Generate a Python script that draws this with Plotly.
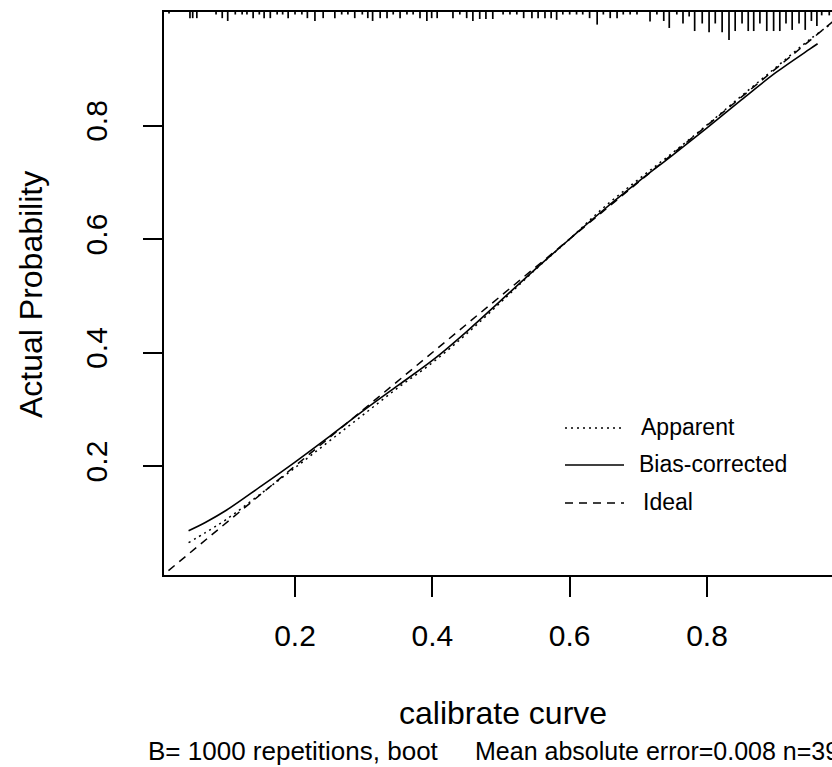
import plotly.graph_objects as go

# ---- data ----
pred_x = [0.045, 0.07, 0.10, 0.15, 0.20, 0.25, 0.30, 0.35, 0.40, 0.45, 0.50,
          0.55, 0.60, 0.65, 0.70, 0.75, 0.80, 0.85, 0.90, 0.95, 0.961]
bias_corrected = [0.086, 0.101, 0.122, 0.164, 0.207, 0.252, 0.298, 0.342, 0.386, 0.437, 0.492,
                  0.547, 0.600, 0.652, 0.701, 0.748, 0.796, 0.845, 0.893, 0.935, 0.944]
apparent_x = [0.045, 0.07, 0.10, 0.15, 0.20, 0.25, 0.30, 0.35, 0.40, 0.45, 0.50,
              0.55, 0.60, 0.65, 0.70, 0.75, 0.80, 0.85, 0.90, 0.95, 0.982]
apparent = [0.065, 0.083, 0.106, 0.151, 0.197, 0.244, 0.291, 0.338, 0.382, 0.433, 0.489,
            0.546, 0.600, 0.656, 0.705, 0.752, 0.801, 0.852, 0.902, 0.952, 0.980]
ideal = [0.0, 1.0]

# rug of predicted probabilities (position, relative tick length)
rug_x = [0.0165, 0.047, 0.051, 0.057, 0.085, 0.094, 0.102, 0.113, 0.123, 0.130, 0.139,
         0.148, 0.155, 0.164, 0.174, 0.182, 0.190, 0.200, 0.210, 0.218, 0.229, 0.241,
         0.258, 0.268, 0.277, 0.287, 0.298, 0.306, 0.313, 0.324, 0.334, 0.343, 0.353,
         0.363, 0.372, 0.382, 0.392, 0.399, 0.407, 0.430, 0.440, 0.450, 0.459, 0.469,
         0.478, 0.488, 0.503, 0.513, 0.523, 0.533, 0.545, 0.554, 0.564, 0.573, 0.581,
         0.590, 0.600, 0.610, 0.619, 0.629, 0.640, 0.649, 0.659, 0.669, 0.678, 0.688,
         0.698, 0.717, 0.727, 0.737, 0.745, 0.756, 0.765, 0.774, 0.782, 0.793, 0.803,
         0.812, 0.822, 0.832, 0.841, 0.851, 0.860, 0.868, 0.877, 0.887, 0.897, 0.906,
         0.915, 0.924, 0.934, 0.943, 0.952, 0.960, 0.967, 0.978]
rug_len = [0.05, 0.22, 0.22, 0.22, 0.09, 0.22, 0.32, 0.09, 0.09, 0.09, 0.22,
           0.09, 0.22, 0.22, 0.09, 0.09, 0.22, 0.09, 0.09, 0.22, 0.32, 0.22,
           0.22, 0.09, 0.09, 0.22, 0.09, 0.22, 0.32, 0.22, 0.22, 0.09, 0.22,
           0.09, 0.09, 0.22, 0.32, 0.22, 0.22, 0.22, 0.09, 0.22, 0.32, 0.25,
           0.25, 0.25, 0.09, 0.09, 0.09, 0.22, 0.22, 0.22, 0.22, 0.22, 0.28,
           0.09, 0.09, 0.09, 0.09, 0.22, 0.45, 0.09, 0.22, 0.22, 0.09, 0.09,
           0.09, 0.34, 0.09, 0.32, 0.57, 0.09, 0.41, 0.16, 0.68, 0.41, 0.72,
           0.41, 0.72, 1.00, 0.68, 0.41, 0.68, 0.68, 0.41, 0.68, 0.68, 0.68,
           0.41, 0.64, 0.41, 0.64, 0.32, 0.50, 0.12, 0.12]

x_range = [0.0092, 0.982]
y_range = [0.008, 1.0]
ticks = [0.2, 0.4, 0.6, 0.8]
tick_text = ["0.2", "0.4", "0.6", "0.8"]

FONT = "Liberation Sans, Arial, sans-serif"
W, H = 832, 767
L, R, T, B = 164, 0, 12, 192

fig = go.Figure()

# rug ticks hanging from the top border
rug_max = 28 / (H - T - B) * (y_range[1] - y_range[0])
rx, ry = [], []
for xv, lv in zip(rug_x, rug_len):
    rx += [xv, xv, None]
    ry += [y_range[1], y_range[1] - lv * rug_max, None]
fig.add_trace(go.Scatter(x=rx, y=ry, mode="lines",
                         line=dict(color="black", width=1.7), hoverinfo="skip",
                         showlegend=False))

fig.add_trace(go.Scatter(x=ideal, y=ideal, mode="lines",
                         line=dict(color="black", width=1.5, dash="8px,6px"),
                         showlegend=False))
fig.add_trace(go.Scatter(x=apparent_x, y=apparent, mode="lines", line_shape="spline",
                         line=dict(color="black", width=1.5, dash="2px,4px"),
                         showlegend=False))
fig.add_trace(go.Scatter(x=pred_x, y=bias_corrected, mode="lines", line_shape="spline",
                         line=dict(color="black", width=1.6),
                         showlegend=False))

# manual legend
pw, ph = W - L - R, H - T - B
def px_x(p):
    return (p - L) / pw
def px_y(p):
    return (H - B - p) / ph

legend_items = [("Apparent", "2px,4px", 428, 639), ("Bias-corrected", "solid", 465, 637),
                ("Ideal", "8px,6px", 503, 641)]
for label, dash, yy, tx in legend_items:
    fig.add_shape(type="line", xref="paper", yref="paper",
                  x0=px_x(565), x1=px_x(624), y0=px_y(yy), y1=px_y(yy),
                  line=dict(color="black", width=1.5, dash=dash))
    fig.add_annotation(text=label, xref="paper", yref="paper",
                       x=px_x(tx), y=px_y(yy - 1), xanchor="left", yanchor="middle",
                       showarrow=False, font=dict(size=23, color="black", family=FONT))

# titles
fig.add_annotation(text="calibrate curve", xref="paper", yref="paper",
                   x=px_x(503), y=px_y(713), xanchor="center", yanchor="middle",
                   showarrow=False, font=dict(size=32, color="black", family=FONT))
fig.add_annotation(text="B= 1000 repetitions, boot",
                   xref="paper", yref="paper",
                   x=px_x(146), y=px_y(751), xanchor="left", yanchor="middle",
                   showarrow=False, font=dict(size=26, color="black", family=FONT))
fig.add_annotation(text="Mean absolute error=0.008 n=398",
                   xref="paper", yref="paper",
                   x=px_x(473), y=px_y(751), xanchor="left", yanchor="middle",
                   showarrow=False, font=dict(size=25, color="black", family=FONT))
fig.add_annotation(text="Actual Probability", xref="paper", yref="paper",
                   x=px_x(31), y=px_y(295), xanchor="center", yanchor="middle",
                   textangle=-90, showarrow=False,
                   font=dict(size=32, color="black", family=FONT))

fig.update_xaxes(range=x_range, tickvals=ticks, ticktext=tick_text,
                 showline=True, mirror=True, linecolor="black", linewidth=1.5,
                 ticks="outside", ticklen=20, tickwidth=1.5, tickcolor="black",
                 showgrid=False, zeroline=False, ticklabelstandoff=13,
                 tickfont=dict(size=30, color="black", family=FONT))
fig.update_yaxes(range=y_range, tickvals=ticks, ticktext=tick_text,
                 showline=True, mirror=False, linecolor="black", linewidth=1.5,
                 ticks="outside", ticklen=19, tickwidth=1.5, tickcolor="black",
                 showgrid=False, zeroline=False, tickangle=-90, ticklabelstandoff=24,
                 tickfont=dict(size=30, color="black", family=FONT))

fig.update_layout(width=W, height=H, margin=dict(l=L, r=R, t=T, b=B),
                  paper_bgcolor="white", plot_bgcolor="white", showlegend=False)

fig.write_html("out.html", config={"displayModeBar": False},
               post_script="document.body.style.margin='0';document.body.style.overflow='hidden';")
